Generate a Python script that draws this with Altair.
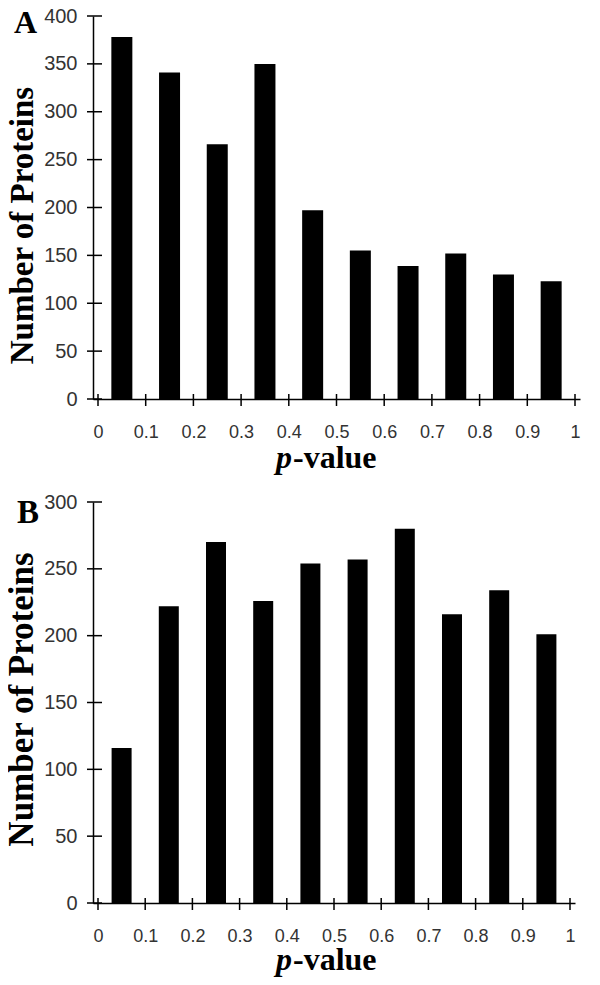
import altair as alt
import pandas as pd

# ---- data ----
bin_centers = [0.05, 0.15, 0.25, 0.35, 0.45, 0.55, 0.65, 0.75, 0.85, 0.95]
counts_a = [378, 341, 266, 350, 197, 155, 139, 152, 130, 123]
counts_b = [116, 222, 270, 226, 254, 257, 280, 216, 234, 201]
x_ticks = [0, 0.1, 0.2, 0.3, 0.4, 0.5, 0.6, 0.7, 0.8, 0.9, 1]
y_ticks_a = [0, 50, 100, 150, 200, 250, 300, 350, 400]
y_ticks_b = [0, 50, 100, 150, 200, 250, 300]
panel_letters = ["A", "B"]
y_title = "Number of Proteins"
x_title_italic = ["p"]
x_title_rest = ["-value"]

SERIF = "Liberation Serif"
SANS = "Liberation Sans"


def panel(counts, yticks, ymax, w, h, bar_w, letter, letter_size, letter_x, letter_y,
          title_size, title_y, xt_base):
    df = pd.DataFrame({"p": bin_centers, "n": counts})
    xscale = alt.Scale(domain=[0, 1], nice=False, zero=False)
    yscale = alt.Scale(domain=[0, ymax], nice=False)

    xaxis = alt.Axis(values=x_ticks, format="~g", ticks=False, tickSize=0,
                     labelPadding=24, labelFont=SANS, labelFontSize=18,
                     labelColor="#333333", domainColor="black", domainWidth=1.5,
                     grid=False, title=None, labelFlush=False)
    yaxis = alt.Axis(values=yticks, ticks=False, tickSize=0, labelPadding=16,
                     labelFont=SANS, labelFontSize=20, labelColor="#333333",
                     domainColor="black", domainWidth=1.5, grid=False,
                     title=y_title, titleFont=SERIF, titleFontWeight="bold",
                     titleFontSize=title_size, titleColor="black",
                     titleX=-61, titleY=title_y, titleBaseline="alphabetic",
                     titleAlign="center", labelFlush=False)

    bars = alt.Chart(df).mark_bar(color="black", size=bar_w, orient="vertical").encode(
        x=alt.X("p:Q", scale=xscale, axis=xaxis),
        y=alt.Y("n:Q", scale=yscale, axis=yaxis))

    ytick_rules = alt.Chart(pd.DataFrame({"n": yticks})).mark_rule(
        color="black", strokeWidth=1.5).encode(
        y=alt.Y("n:Q", scale=yscale, axis=yaxis), x=alt.value(-6), x2=alt.value(9))

    xtick_rules = alt.Chart(pd.DataFrame({"p": x_ticks})).mark_rule(
        color="black", strokeWidth=1.5).encode(
        x=alt.X("p:Q", scale=xscale, axis=xaxis), y=alt.value(h - 5), y2=alt.value(h + 7))

    t_p = alt.Chart(pd.DataFrame({"t": x_title_italic})).mark_text(
        font=SERIF, fontSize=32, fontWeight="bold", fontStyle="italic", align="right",
        baseline="alphabetic", color="black").encode(
        text="t:N", x=alt.value(199), y=alt.value(h + xt_base))
    t_rest = alt.Chart(pd.DataFrame({"t": x_title_rest})).mark_text(
        font=SERIF, fontSize=32, fontWeight="bold", align="left",
        baseline="alphabetic", color="black").encode(
        text="t:N", x=alt.value(200), y=alt.value(h + xt_base))

    t_letter = alt.Chart(pd.DataFrame({"t": [letter]})).mark_text(
        font=SERIF, fontSize=letter_size, fontWeight="bold", align="left",
        baseline="alphabetic", color="black").encode(
        text="t:N", x=alt.value(letter_x), y=alt.value(letter_y))

    return alt.layer(bars, ytick_rules, xtick_rules, t_p, t_rest, t_letter).properties(
        width=w, height=h)


pa = panel(counts_a, y_ticks_a, 400, 487, 383, 21, panel_letters[0], 32, -79, 17,
           33, 209, 69)
pb = panel(counts_b, y_ticks_b, 300, 482, 401, 20, panel_letters[1], 33, -76, 21,
           35, 197, 67)

chart = alt.vconcat(pa, pb, spacing=103, bounds="flush").properties(
    padding={"left": -4, "top": -2, "right": 5, "bottom": 2},
    background="white"
).configure_view(stroke=None)

chart.save("out.html", embed_options={"renderer": "svg", "actions": False})
